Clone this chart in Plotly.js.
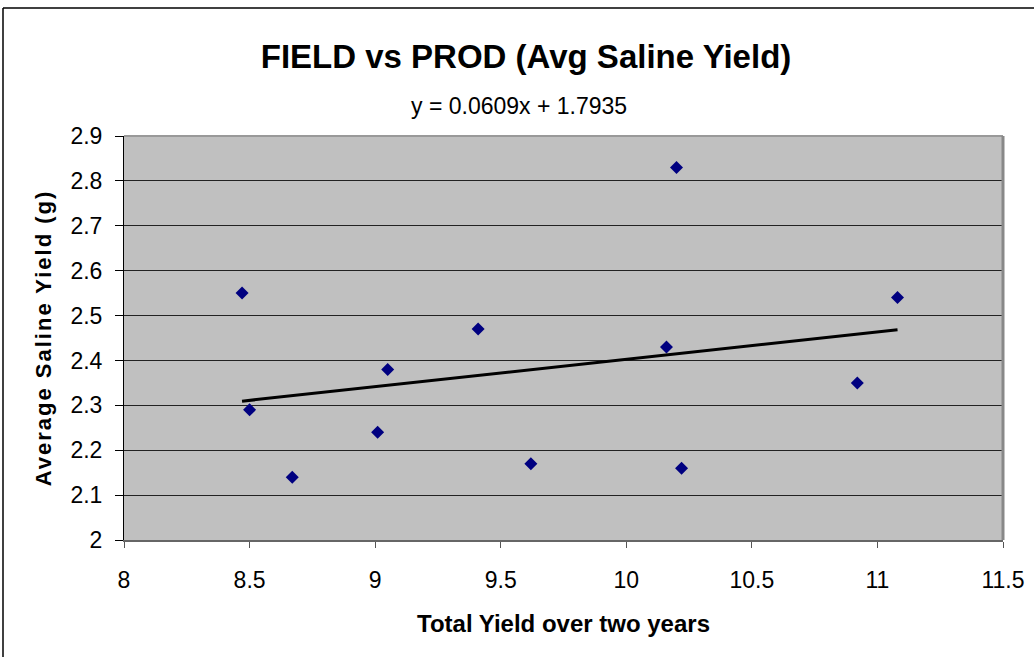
<!DOCTYPE html>
<html>
<head>
<meta charset="utf-8">
<script src="https://cdn.plot.ly/plotly-3.0.1.min.js"></script>
<style>
  html, body { margin: 0; padding: 0; background: #fff; }
  #chart { width: 1034px; height: 657px; }
  .ytitle { letter-spacing: 2px; }
</style>
</head>
<body>
<div id="chart"></div>
<script>
// Data
const totalYield = [8.47, 8.50, 8.67, 9.01, 9.05, 9.41, 9.62, 10.16, 10.20, 10.22, 10.92, 11.08];
const salineYield = [2.55, 2.29, 2.14, 2.24, 2.38, 2.47, 2.17, 2.43, 2.83, 2.16, 2.35, 2.54];
const trendSlope = 0.0609;
const trendIntercept = 1.7935;
const xTicks = [8, 8.5, 9, 9.5, 10, 10.5, 11, 11.5];
const yTicks = [2, 2.1, 2.2, 2.3, 2.4, 2.5, 2.6, 2.7, 2.8, 2.9];

const xMin = Math.min(...totalYield);
const xMax = Math.max(...totalYield);
const trendX = [xMin, xMax];
const trendY = trendX.map(v => trendSlope * v + trendIntercept);

const FONT = 'Liberation Sans, Arial, sans-serif';

const traces = [
  {
    x: totalYield, y: salineYield, type: 'scatter', mode: 'markers',
    marker: { symbol: 'diamond', size: 10, color: '#000080' },
    showlegend: false, hoverinfo: 'x+y'
  },
  {
    x: trendX, y: trendY, type: 'scatter', mode: 'lines',
    line: { color: '#000000', width: 3 },
    showlegend: false, hoverinfo: 'skip'
  }
];

const W = 1034, H = 657;
const L = 124, R = 31, T = 136, B = 117;
const pw = W - L - R, ph = H - T - B;

const layout = {
  width: W, height: H,
  margin: { l: L, r: R, t: T, b: B, pad: 0 },
  paper_bgcolor: '#ffffff',
  plot_bgcolor: '#C0C0C0',
  title: {
    text: '<b>FIELD vs PROD (Avg Saline Yield)</b>',
    font: { family: FONT, size: 33, color: '#000' },
    xref: 'container', yref: 'container',
    x: 526 / W, y: 1 - 56 / H, xanchor: 'center', yanchor: 'middle'
  },
  xaxis: {
    range: [8, 11.5], tickvals: xTicks, ticktext: xTicks.map(String),
    showgrid: false, zeroline: false,
    showline: true, linecolor: '#666', linewidth: 2,
    ticks: 'outside', ticklen: 6, tickcolor: '#555', tickwidth: 1,
    ticklabelstandoff: 12,
    tickfont: { family: FONT, size: 23, color: '#000' },
    title: { text: '<b>Total Yield over two years</b>', font: { family: FONT, size: 24, color: '#000' }, standoff: 24 },
    fixedrange: true
  },
  yaxis: {
    range: [2, 2.9], tickvals: yTicks, ticktext: yTicks.map(String),
    showgrid: true, gridcolor: '#222', gridwidth: 1, zeroline: false,
    showline: true, linecolor: '#000', linewidth: 1,
    ticks: 'outside', ticklen: 8, tickcolor: '#000', tickwidth: 1,
    ticklabelstandoff: 8,
    tickfont: { family: FONT, size: 23, color: '#000' },
    title: { text: '<b>Average Saline Yield (g)</b>', font: { family: FONT, size: 22, color: '#000' }, standoff: 12 },
    fixedrange: true
  },
  annotations: [
    {
      text: 'y = 0.0609x + 1.7935',
      xref: 'paper', yref: 'paper',
      x: (519 - L) / pw, y: (H - B - 106) / ph,
      xanchor: 'center', yanchor: 'middle', showarrow: false,
      font: { family: FONT, size: 23, color: '#000' }
    }
  ],
  shapes: [
    // plot-area border (top & right gray)
    { type: 'line', xref: 'paper', yref: 'paper', x0: 0, x1: 1, y0: 1, y1: 1, line: { color: '#999', width: 2 }, layer: 'above' },
    { type: 'line', xref: 'paper', yref: 'paper', x0: 1, x1: 1, y0: 0, y1: 1, line: { color: '#888', width: 3 }, layer: 'above' },
    // outer chart border
    { type: 'line', xref: 'paper', yref: 'paper', x0: (3 - L) / pw, x1: (W + 10 - L) / pw, y0: (H - B - 8) / ph, y1: (H - B - 8) / ph, line: { color: '#000', width: 1.5 }, layer: 'above' },
    { type: 'line', xref: 'paper', yref: 'paper', x0: (3 - L) / pw, x1: (3 - L) / pw, y0: (H - B - 8) / ph, y1: -B / ph - 0.05, line: { color: '#000', width: 1.5 }, layer: 'above' }
  ]
};

Plotly.newPlot('chart', traces, layout, { displayModeBar: false, staticPlot: true });
</script>
</body>
</html>
